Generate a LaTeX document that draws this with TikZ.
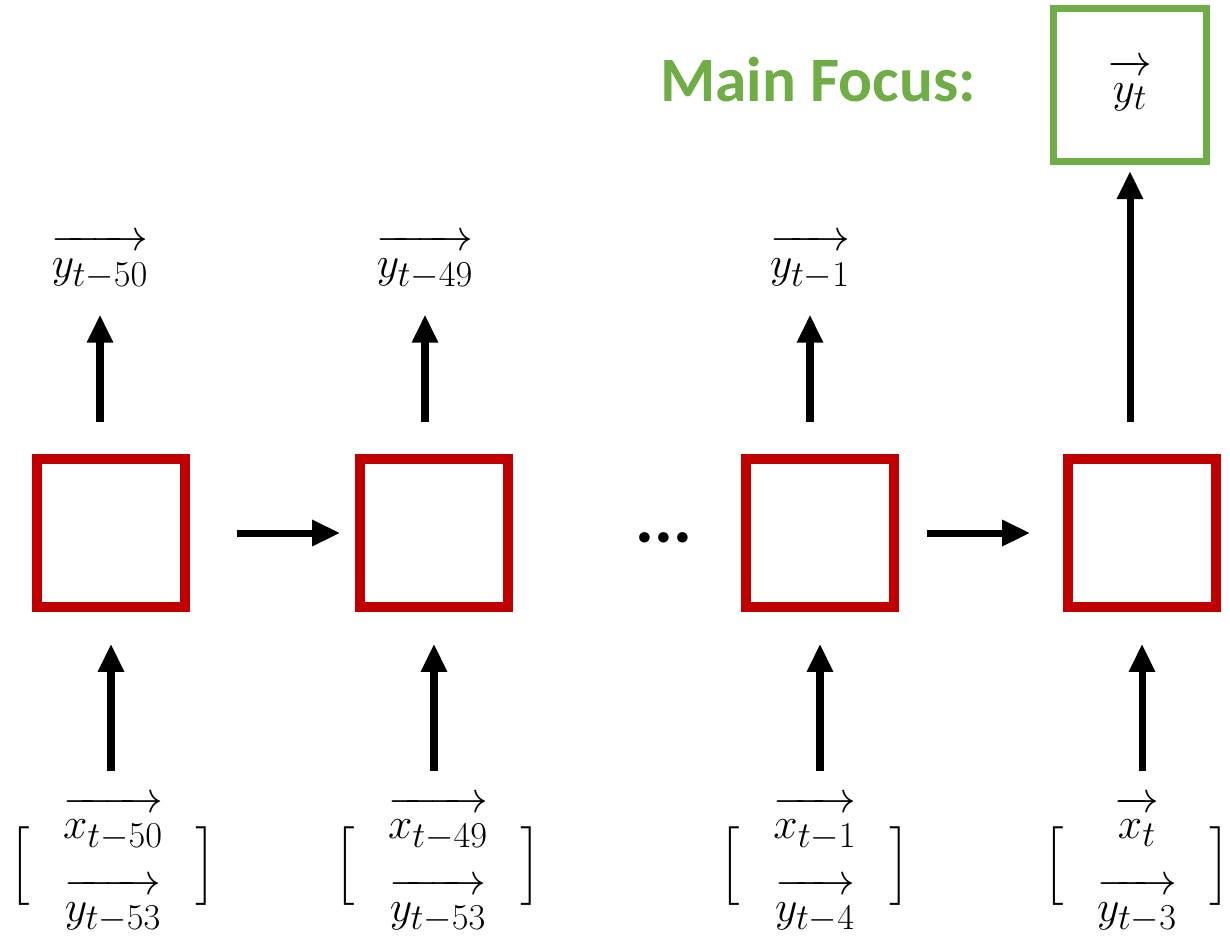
\documentclass[tikz,border=0pt]{standalone}
\usepackage{amsmath}
\usepackage{fontspec}
\newfontfamily\calib{Carlito}
\usepackage{tikz}
\usetikzlibrary{arrows.meta,positioning}
\definecolor{cellred}{HTML}{C00000}
\definecolor{focgreen}{HTML}{70AD47}
\newcommand{\vv}[1]{\overrightarrow{\vphantom{t}#1}}
\newcommand{\vecpair}[2]{\Big[\;\;\begin{array}{c}\vv{#1}\\[14pt]\vv{#2}\end{array}\;\;\Big]}
\tikzset{
  cbox/.style={draw=cellred, line width=0.19cm, minimum size=2.96cm, inner sep=0pt},
  gbox/.style={draw=focgreen, line width=0.14cm, minimum size=3.06cm, inner sep=0pt, font=\fontsize{31}{37}\selectfont},
  lbl/.style={inner sep=0pt, font=\fontsize{31}{37}\selectfont},
  inlbl/.style={inner sep=0pt, font=\fontsize{28}{28}\selectfont},
  farr/.style={-{Triangle[length=16pt, width=14pt]}, line width=4pt}
}

\begin{document}
\begin{tikzpicture}[x=0.02cm, y=-0.02cm]
\useasboundingbox (0,0) rectangle (1230,938);
% cells
\node[cbox] (c1) at (111,533) {};
\node[cbox] (c2) at (434,533) {};
\node[cbox] (c3) at (820,533) {};
\node[cbox] (c4) at (1142,533) {};
\node[font=\calib\bfseries\fontsize{40}{48}\selectfont, inner sep=0pt] (dots) at (664,538) {...};
% main focus
\node[gbox] (foc) at (1130,85) {$\vv{y_t}$};
\node[font=\calib\bfseries\fontsize{36}{43}\selectfont, text=focgreen, inner sep=0pt] (mf) at (818,80) {Main Focus:};
% outputs
\node[lbl] (out1) at (100,262) {$\vv{y_{t-50}}$};
\node[lbl] (out2) at (425,262) {$\vv{y_{t-49}}$};
\node[lbl] (out3) at (810,262) {$\vv{y_{t-1}}$};
% inputs
\node[inlbl] (in1) at (113,866) {$\vecpair{x_{t-50}}{y_{t-53}}$};
\node[inlbl] (in2) at (438,866) {$\vecpair{x_{t-49}}{y_{t-53}}$};
\node[inlbl] (in3) at (815,866) {$\vecpair{x_{t-1}}{y_{t-4}}$};
\node[inlbl] (in4) at (1137,866) {$\vecpair{x_t}{y_{t-3}}$};
\draw[farr, shorten <=0.5cm, shorten >=0.64cm] (in1.north -| c1) -- (c1.south);
\draw[farr, shorten <=0.5cm, shorten >=0.64cm] (in2.north -| c2) -- (c2.south);
\draw[farr, shorten <=0.5cm, shorten >=0.64cm] (in3.north -| c3) -- (c3.south);
\draw[farr, shorten <=0.5cm, shorten >=0.64cm] (in4.north -| c4) -- (c4.south);
\draw[farr, shorten <=0.64cm, shorten >=0.5cm] (c1.north -| out1) -- (out1.south);
\draw[farr, shorten <=0.64cm, shorten >=0.5cm] (c2.north -| out2) -- (out2.south);
\draw[farr, shorten <=0.64cm, shorten >=0.5cm] (c3.north -| out3) -- (out3.south);
\draw[farr, shorten <=0.64cm, shorten >=0.12cm] (c4.north -| foc) -- (foc.south);
\draw[farr, shorten <=0.94cm, shorten >=0.3cm] (c1.east) -- (c2.west);
\draw[farr, shorten <=0.56cm, shorten >=0.66cm] (c3.east) -- (c4.west);
\end{tikzpicture}
\end{document}
